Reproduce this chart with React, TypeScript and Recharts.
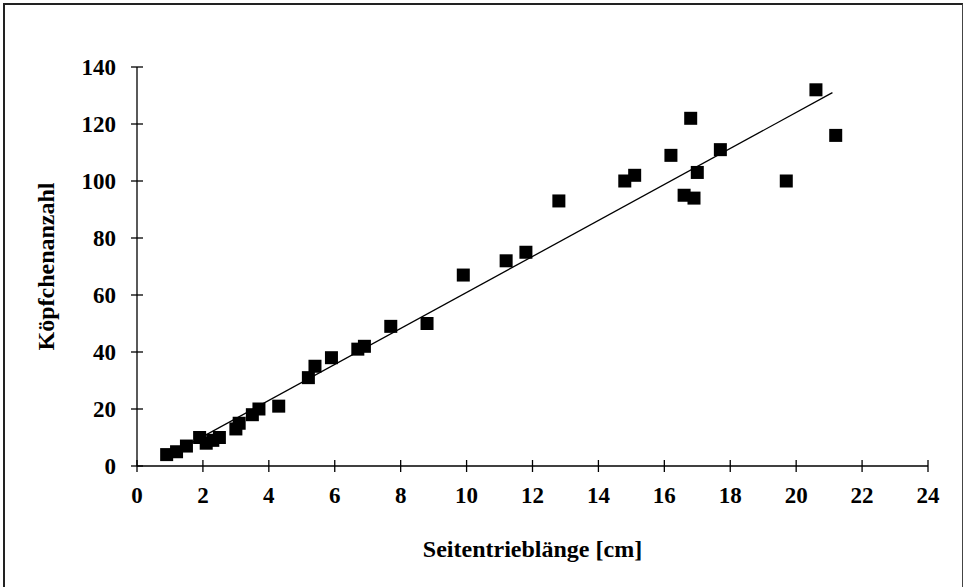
import React from "react";
import {
  ScatterChart,
  Scatter,
  XAxis,
  YAxis,
  Label,
} from "recharts";

// Seitentrieblänge [cm]
const lengths = [
  0.9, 1.2, 1.5, 1.9, 2.1, 2.3, 2.5, 3.0, 3.1, 3.5, 3.7, 4.3, 5.2, 5.4, 5.9,
  6.7, 6.9, 7.7, 8.8, 9.9, 11.2, 11.8, 12.8, 14.8, 15.1, 16.2, 16.6, 16.8,
  16.9, 17.0, 17.7, 19.7, 20.6, 21.2,
];
// Köpfchenanzahl
const counts = [
  4, 5, 7, 10, 8, 9, 10, 13, 15, 18, 20, 21, 31, 35, 38, 41, 42, 49, 50, 67,
  72, 75, 93, 100, 102, 109, 95, 122, 94, 103, 111, 100, 132, 116,
];
// linear trend line end points
const trendX = [0.9, 21.1];
const trendY = [3.4, 131];

const xTicks = [0, 2, 4, 6, 8, 10, 12, 14, 16, 18, 20, 22, 24];
const yTicks = [0, 20, 40, 60, 80, 100, 120, 140];

const points = lengths.map((x, i) => ({ x, y: counts[i] }));
const trend = trendX.map((x, i) => ({ x, y: trendY[i] }));

const font = "'Liberation Serif', 'Times New Roman', serif";
const tickStyle = { fontSize: 23, fontWeight: 700, fill: "#000", fontFamily: font };
const titleStyle = { ...tickStyle, fontSize: 24 };

const SquareMark = (props: any) => {
  const { cx, cy } = props;
  if (cx == null || cy == null) return null;
  return <rect x={cx - 6.5} y={cy - 6.5} width={13} height={13} fill="#000" />;
};

export default function App() {
  return (
    <div
      style={{
        position: "absolute",
        left: 0,
        top: 0,
        width: 963,
        height: 587,
        background: "#fff",
      }}
    >
      <div
        style={{
          position: "absolute",
          left: 3,
          top: 3,
          width: 957,
          height: 600,
          borderTop: "2px solid #222",
          borderLeft: "2px solid #222",
          borderRight: "1px solid #444",
        }}
      />
      <ScatterChart
        width={963}
        height={587}
        margin={{ top: 67, right: 35, left: 37, bottom: 51 }}
        style={{ position: "absolute", left: 0, top: 0 }}
      >
        <XAxis
          type="number"
          dataKey="x"
          domain={[0, 24]}
          ticks={xTicks}
          allowDataOverflow
          stroke="#000"
          strokeWidth={1.3}
          tickSize={12}
          tickMargin={9}
          tickLine={{ transform: "translate(0,-6)", stroke: "#000" }}
          tick={tickStyle}
          height={70}
        >
          <Label
            content={({ viewBox }: any) => (
              <text
                x={viewBox.x + viewBox.width / 2}
                y={viewBox.y + 91}
                textAnchor="middle"
                style={titleStyle}
              >
                Seitentrieblänge [cm]
              </text>
            )}
          />
        </XAxis>
        <YAxis
          type="number"
          dataKey="y"
          domain={[0, 140]}
          ticks={yTicks}
          allowDataOverflow
          stroke="#000"
          strokeWidth={1.3}
          tickSize={12}
          tickMargin={9}
          tickLine={{ transform: "translate(6,0)", stroke: "#000" }}
          tick={tickStyle}
          width={100}
        >
          <Label
            content={({ viewBox }: any) => {
              const cx = viewBox.x + 9;
              const cy = viewBox.y + viewBox.height / 2;
              return (
                <text
                  x={cx}
                  y={cy}
                  textAnchor="middle"
                  dominantBaseline="central"
                  transform={`rotate(-90 ${cx} ${cy})`}
                  style={titleStyle}
                >
                  Köpfchenanzahl
                </text>
              );
            }}
          />
        </YAxis>
        <Scatter
          data={trend}
          line={{ stroke: "#000", strokeWidth: 1.3 }}
          shape={() => null}
          isAnimationActive={false}
        />
        <Scatter
          data={points}
          shape={SquareMark}
          fill="#000"
          isAnimationActive={false}
        />
      </ScatterChart>
    </div>
  );
}
